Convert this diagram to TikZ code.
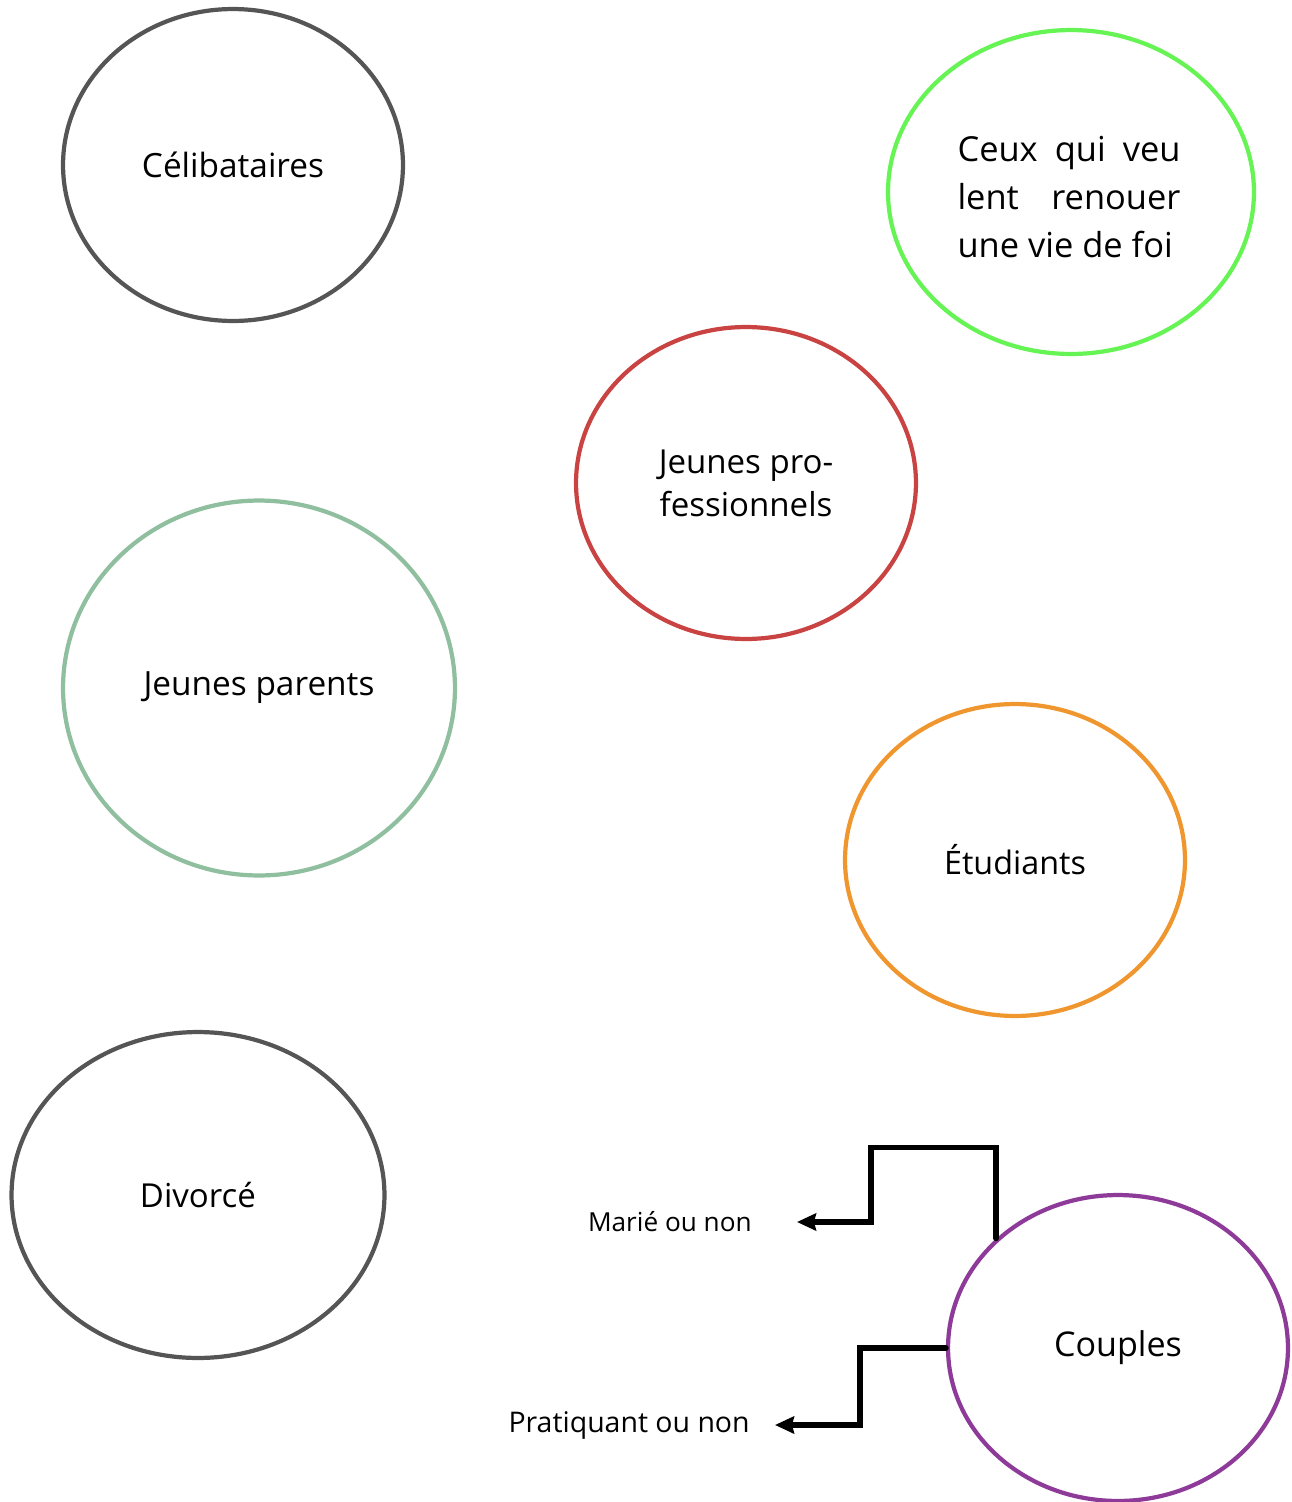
\documentclass[tikz,border=0pt]{standalone}
\usepackage{fontspec}
\setmainfont{Open Sans}
\usepackage{tikz}
\usetikzlibrary{arrows.meta,shapes.geometric}

\definecolor{greyring}{HTML}{555555}
\definecolor{faithgreen}{HTML}{66F455}
\definecolor{proring}{HTML}{C94343}
\definecolor{sagering}{HTML}{8FBF9F}
\definecolor{studring}{HTML}{F0962E}
\definecolor{couplering}{HTML}{8E3A99}

\tikzset{
  group/.style={ellipse, draw, line width=2.4pt, inner sep=0pt, align=center},
  branch/.style={line width=3.2pt, -{Stealth[length=0.38cm,width=0.34cm,inset=0.04cm]}},
  choice/.style={inner sep=0pt, anchor=east}
}
\newcommand{\fs}[1]{\fontsize{#1}{1.3\dimexpr#1pt\relax}\selectfont}
\newcommand{\fsl}[2]{\fontsize{#1}{#2}\selectfont}

\begin{document}
\begin{tikzpicture}[x=0.02cm, y=-0.02cm, line cap=round, line join=miter]
                \useasboundingbox (0,0) rectangle (1292,1502);

                % Groups on the left
                \node[group, draw=greyring, minimum width=6.8cm, minimum height=6.24cm, font=\fs{19}]
                    (celib) at (233,165) {Célibataires};
                \node[group, draw=sagering, minimum width=7.84cm, minimum height=7.5cm, font=\fs{19}]
                    (parents) at (259,688) {Jeunes parents};
                \node[group, draw=greyring, minimum width=7.46cm, minimum height=6.52cm, font=\fs{18.8}]
                    (divorce) at (198,1195) {Divorcé};

                % Groups on the right
                \node[group, draw=faithgreen, minimum width=7.32cm, minimum height=6.48cm]
                    (foi) at (1071,192) {};
                \node[font=\fsl{19.6}{27.4}, text width=4.46cm, align=justify, inner sep=0pt]
                    (foitext) at (1069,197) {Ceux\hfill qui\hfill veu\\ lent\hfill renouer\\ une vie de foi};
                \node[group, draw=proring, minimum width=6.8cm, minimum height=6.24cm, font=\fs{18.8}]
                    (pro) at (746,483) {Jeunes pro-\\fessionnels};
                \node[group, draw=studring, minimum width=6.8cm, minimum height=6.24cm, font=\fs{18.4}]
                    (etud) at (1015,860) {Étudiants};
                \node[group, draw=couplering, minimum width=6.8cm, minimum height=6.12cm, font=\fs{19.4}]
                    (couples) at (1118,1348) {Couples};

                % Choices for the couples
                \node[choice, font=\fs{14.9}] (marie) at (752,1222) {Marié ou non};
                \node[choice, font=\fs{16.2}] (prat) at (750,1425) {Pratiquant ou non};

                \draw[branch] (couples.138) |- ++(-125,-91) |- ([xshift=0.9cm]marie.east);
                \draw[branch] (couples.west) -- ++(-86,0) |- ([xshift=0.5cm]prat.east);

            \end{tikzpicture}
\end{document}
